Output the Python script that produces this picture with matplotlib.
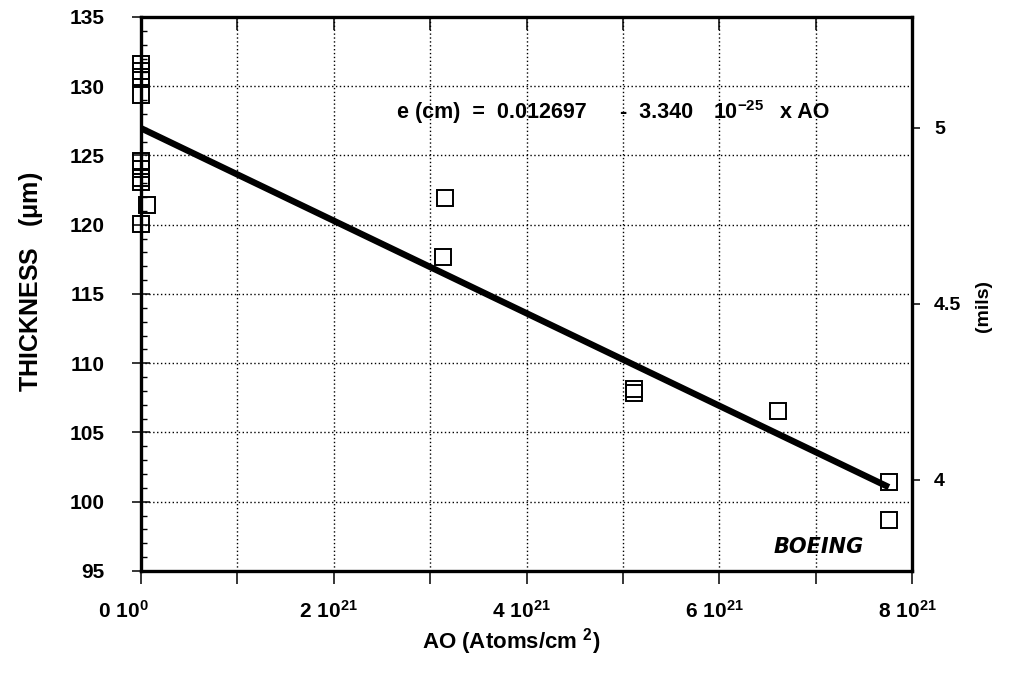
import matplotlib
matplotlib.use("Agg")
import matplotlib.pyplot as plt
from matplotlib.ticker import FixedLocator, MultipleLocator
from matplotlib.transforms import ScaledTranslation
import numpy as np

# ---------------- data ----------------
ao_atoms_cm2 = [0.0, 0.0, 0.0, 0.0,
                0.0, 0.0, 0.0, 0.0,
                0.06e21, 0.0,
                3.15e21, 3.13e21,
                5.12e21, 5.12e21,
                6.61e21,
                7.76e21, 7.76e21]
thickness_um = [131.6, 131.1, 130.7, 129.4,
                124.6, 124.0, 123.4, 123.1,
                121.4, 120.05,
                121.9, 117.7,
                108.15, 107.85,
                106.55,
                101.45, 98.65]

fit_intercept_cm = 0.012697
fit_slope_cm = 3.340e-25
fit_ao_range = [0.0, 7.76e21]

x_ticks = [0, 1e21, 2e21, 3e21, 4e21, 5e21, 6e21, 7e21, 8e21]
x_tick_labels = [r"$0\ 10^{0}$", "", r"$2\ 10^{21}$", "", r"$4\ 10^{21}$", "",
                 r"$6\ 10^{21}$", "", r"$8\ 10^{21}$"]
y_ticks = [95, 100, 105, 110, 115, 120, 125, 130, 135]
mils_ticks = [4, 4.5, 5]
mils_labels = ["4", "4.5", "5"]
UM_PER_MIL = 25.4
UM_PER_CM = 1e4

# ---------------- style ----------------
plt.rcParams["font.family"] = ["Liberation Sans", "DejaVu Sans"]
plt.rcParams["font.weight"] = "bold"
plt.rcParams["mathtext.fontset"] = "custom"
plt.rcParams["mathtext.rm"] = "Liberation Sans:bold"
plt.rcParams["mathtext.bf"] = "Liberation Sans:bold"
plt.rcParams["mathtext.it"] = "Liberation Sans:bold"
plt.rcParams["mathtext.default"] = "rm"

fig = plt.figure(figsize=(10.1, 6.75), dpi=100)
ax = fig.add_axes([141 / 1010, 1 - 571 / 675, (912 - 141) / 1010, (571 - 17) / 675])

# grid
ax.grid(True, which="major", color="black", linestyle=(0, (1, 1.8)), linewidth=1.0)
ax.set_axisbelow(True)

# fit line
fx = np.array(fit_ao_range)
fy = (fit_intercept_cm - fit_slope_cm * fx) * UM_PER_CM
ax.plot(fx, fy, color="black", linewidth=4.6, solid_capstyle="butt", zorder=3)

# points
ax.plot(ao_atoms_cm2, thickness_um, linestyle="none", marker="s", markersize=11.5,
        markerfacecolor="none", markeredgecolor="black", markeredgewidth=1.4,
        zorder=4, clip_on=False)

ax.set_xlim(0, 8e21)
ax.set_ylim(95, 135)

ax.xaxis.set_major_locator(FixedLocator(x_ticks))
ax.set_xticklabels(x_tick_labels)
ax.yaxis.set_major_locator(FixedLocator(y_ticks))
ax.yaxis.set_minor_locator(MultipleLocator(1))

for s in ax.spines.values():
    s.set_linewidth(2.4)

ax.tick_params(axis="x", which="major", direction="out", length=9, width=1.1,
               top=True, labelsize=15, pad=12)
ax.tick_params(axis="y", which="major", direction="inout", length=13, width=1.1,
               left=True, right=True, labelsize=15, pad=20)
ax.tick_params(axis="y", which="minor", direction="in", length=4, width=1.0,
               left=True, right=True)
for t in ax.xaxis.get_major_ticks():
    t.tick2line.set_marker(3)

# shift x tick labels slightly left, as in the reference
for i, lab in enumerate(ax.get_xticklabels()):
    dx = -18 if i == 0 else -5
    lab.set_transform(lab.get_transform() + ScaledTranslation(dx / 100, 0, fig.dpi_scale_trans))

ax.set_ylabel(r"THICKNESS   ($\mu$m)", fontsize=18, fontweight="bold")
ax.yaxis.set_label_coords(-0.125, 0.522)
ax.set_xlabel(r"AO (Atoms/cm $^{2}$)", fontsize=16, fontweight="bold")
ax.xaxis.set_label_coords(0.48, -0.099)

# right axis in mils
ax2 = ax.twinx()
ax2.set_ylim(95 / UM_PER_MIL, 135 / UM_PER_MIL)
ax2.yaxis.set_major_locator(FixedLocator(mils_ticks))
ax2.set_yticklabels(mils_labels)
ax2.tick_params(axis="y", which="major", direction="out", length=6, width=1.1,
                labelsize=14, pad=10)
for s in ax2.spines.values():
    s.set_visible(False)
ax2.set_ylabel("(mils)", fontsize=14, fontweight="bold")
ax2.yaxis.set_label_coords(1.0817, 0.478)

# equation annotation
eq_kw = dict(fontsize=15.5, fontweight="bold", va="center", ha="left")
ax.text(2.656e21, 128.1, "e (cm)  =  0.012697", **eq_kw)
ax.text(4.97e21, 128.1, "-  3.340", **eq_kw)
ax.text(5.93e21, 128.1, r"10$^{-25}$", **eq_kw)
ax.text(6.63e21, 128.1, "x AO", **eq_kw)

# logo
ax.text(7.03e21, 96.75, "BOEING", fontsize=15, fontweight="heavy",
        fontstyle="italic", ha="center", va="center",
        family=["DejaVu Sans"])

fig.savefig("out.png", dpi=100)
